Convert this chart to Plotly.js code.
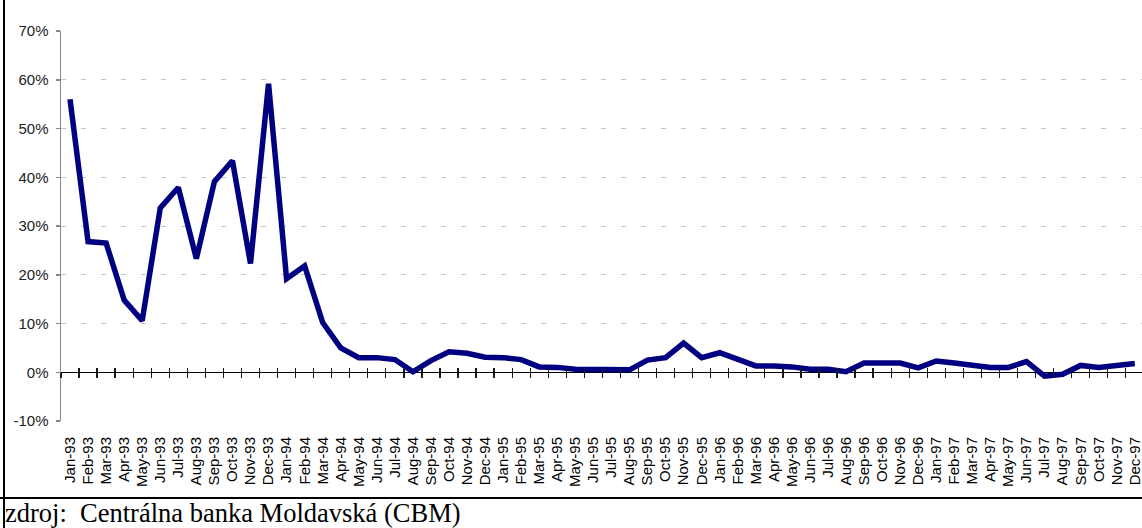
<!DOCTYPE html>
<html>
<head>
<meta charset="utf-8">
<script src="https://cdn.plot.ly/plotly-3.0.1.min.js"></script>
<style>
  html, body { margin: 0; padding: 0; background: #fff; }
  #wrap { position: relative; width: 1142px; height: 528px; overflow: hidden; background: #fff; }
  #chart { position: absolute; left: 0; top: 0; width: 1142px; height: 528px; }
  #vline { position: absolute; left: 3px; top: 0; width: 1.5px; height: 528px; background: #000; }
  #hline { position: absolute; left: 0; top: 497px; width: 1142px; height: 1.5px; background: #000; }
  #source { position: absolute; left: 5px; top: 499px; font-family: "Liberation Serif", "Times New Roman", serif;
            font-size: 26.5px; line-height: 28px; color: #000; white-space: pre; }
</style>
</head>
<body>
<div id="wrap">
  <div id="chart"></div>
  <div id="vline"></div>
  <div id="hline"></div>
  <div id="source">zdroj:  Centrálna banka Moldavská (CBM)</div>
</div>
<script>
const months = [
  "Jan-93","Feb-93","Mar-93","Apr-93","May-93","Jun-93","Jul-93","Aug-93","Sep-93","Oct-93","Nov-93","Dec-93",
  "Jan-94","Feb-94","Mar-94","Apr-94","May-94","Jun-94","Jul-94","Aug-94","Sep-94","Oct-94","Nov-94","Dec-94",
  "Jan-95","Feb-95","Mar-95","Apr-95","May-95","Jun-95","Jul-95","Aug-95","Sep-95","Oct-95","Nov-95","Dec-95",
  "Jan-96","Feb-96","Mar-96","Apr-96","May-96","Jun-96","Jul-96","Aug-96","Sep-96","Oct-96","Nov-96","Dec-96",
  "Jan-97","Feb-97","Mar-97","Apr-97","May-97","Jun-97","Jul-97","Aug-97","Sep-97","Oct-97","Nov-97","Dec-97"
];

const inflation = [
  56.0, 26.8, 26.5, 14.8, 10.6, 33.7, 37.9, 23.3, 39.1, 43.4, 22.3, 59.2,
  19.2, 21.8, 10.2, 5.0, 3.0, 3.0, 2.6, 0.1, 2.4, 4.2, 3.9, 3.1,
  3.0, 2.6, 1.1, 1.0, 0.6, 0.5, 0.5, 0.5, 2.5, 3.0, 6.0, 3.0,
  4.0, 2.7, 1.3, 1.3, 1.1, 0.6, 0.6, 0.1, 1.9, 1.9, 1.9, 0.9,
  2.3, 1.9, 1.4, 1.0, 1.0, 2.2, -0.8, -0.4, 1.4, 1.0, 1.4, 1.8
];

const yTicks = [-10, 0, 10, 20, 30, 40, 50, 60, 70];
const yTickLabels = ["-10%", "0%", "10%", "20%", "30%", "40%", "50%", "60%", "70%"];

const main = {
  type: "scatter", mode: "lines",
  x: months, y: inflation,
  line: { color: "#000080", width: 5.5 },
  hoverinfo: "x+y", showlegend: false
};
const tickHelperDown = {
  type: "scatter", mode: "lines",
  x: months, y: inflation, xaxis: "x2", yaxis: "y",
  line: { color: "rgba(0,0,0,0)", width: 0 },
  hoverinfo: "skip", showlegend: false
};
const tickHelperUp = {
  type: "scatter", mode: "lines",
  x: months, y: inflation, xaxis: "x3", yaxis: "y",
  line: { color: "rgba(0,0,0,0)", width: 0 },
  hoverinfo: "skip", showlegend: false
};

const zeroPos = 10 / 80;
const tickAxisCommon = {
  type: "category", overlaying: "x", matches: "x",
  anchor: "free", position: zeroPos,
  showgrid: false, zeroline: false, showline: false, showticklabels: false,
  tickwidth: 1.3, tickcolor: "#1a1a1a", tickson: "boundaries"
};

const layout = {
  width: 1142, height: 528,
  margin: { l: 61, r: 0, t: 31, b: 107, pad: 0 },
  paper_bgcolor: "rgba(0,0,0,0)", plot_bgcolor: "rgba(0,0,0,0)",
  font: { family: "Liberation Sans", size: 15, color: "#000" },
  xaxis: {
    type: "category", range: [-0.5, 59.4],
    showgrid: false, zeroline: false, showline: false,
    ticks: "outside", ticklen: 9, tickcolor: "rgba(0,0,0,0)",
    tickangle: -90, tickfont: { size: 15, color: "#000" },
    fixedrange: true
  },
  xaxis2: Object.assign({}, tickAxisCommon, { ticks: "outside", ticklen: 5 }),
  xaxis3: Object.assign({}, tickAxisCommon, { ticks: "inside", ticklen: 4 }),
  yaxis: {
    range: [-10, 70], tickmode: "array", tickvals: yTicks, ticktext: yTickLabels,
    showline: true, linecolor: "#888", linewidth: 1.5,
    ticks: "outside", ticklen: 4, tickcolor: "#888", tickwidth: 1.5,
    ticklabelstandoff: 4,
    showgrid: true, gridcolor: "#c4c4c4", gridwidth: 1, griddash: "5px,15px",
    zeroline: true, zerolinecolor: "#000", zerolinewidth: 1.5,
    tickfont: { size: 15, color: "#222" },
    fixedrange: true
  }
};

Plotly.newPlot("chart", [main, tickHelperDown, tickHelperUp], layout, { displayModeBar: false, staticPlot: true });
</script>
</body>
</html>
